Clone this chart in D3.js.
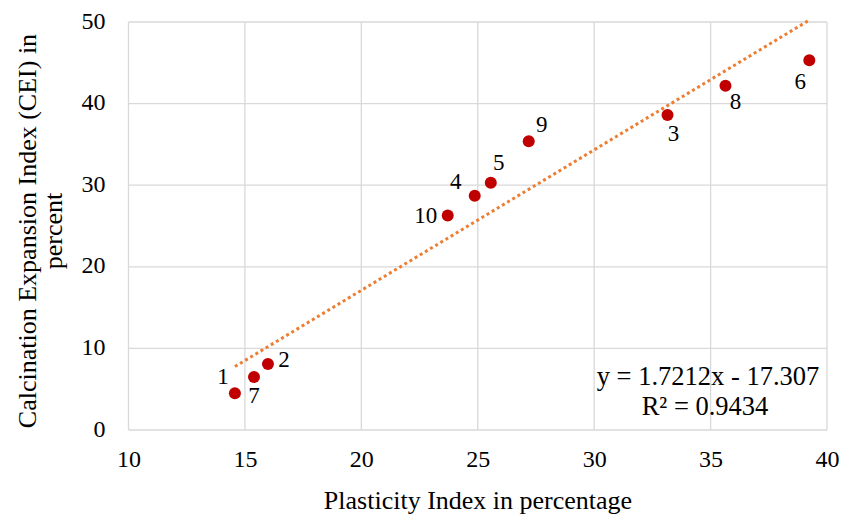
<!DOCTYPE html>
<html>
<head>
<meta charset="utf-8">
<script src="https://cdn.jsdelivr.net/npm/d3@7"></script>
<style>
  html, body { margin: 0; padding: 0; background: #fff; }
  svg { display: block; }
  svg text { font-family: "Liberation Serif", "Times New Roman", serif !important; fill: #000; }
</style>
</head>
<body>
<svg id="chart" width="843" height="514"></svg>
<script>
// ---- data ----
const sampleIds = [1, 2, 3, 4, 5, 6, 7, 8, 9, 10];
const plasticityIndex = [14.57, 15.99, 33.15, 24.87, 25.56, 39.24, 15.39, 35.64, 27.19, 23.71];
const cei = [4.5, 8.1, 38.6, 28.7, 30.3, 45.3, 6.5, 42.2, 35.4, 26.3];
const xTicks = [10, 15, 20, 25, 30, 35, 40];
const yTicks = [0, 10, 20, 30, 40, 50];
const trendSlope = 1.7212;
const trendIntercept = -17.307;
const trendR2 = 0.9434;

// label offsets (layout, px) per sample id
const labelOffset = {
  1: [-12, -17], 2: [16, -5], 3: [6, 18], 4: [-19, -15], 5: [8, -21],
  6: [-9, 21], 7: [0, 18], 8: [10, 15], 9: [13, -17], 10: [-22, 0]
};

const svg = d3.select("#chart");
const x = d3.scaleLinear().domain([10, 40]).range([128.5, 827]);
const y = d3.scaleLinear().domain([0, 50]).range([430, 22]);

// gridlines
const grid = svg.append("g").attr("stroke", "#d9d9d9").attr("stroke-width", 1.3);
grid.selectAll("line.v").data(xTicks).join("line")
  .attr("x1", d => x(d)).attr("x2", d => x(d))
  .attr("y1", y(0)).attr("y2", y(50));
grid.selectAll("line.h").data(yTicks).join("line")
  .attr("x1", x(10)).attr("x2", x(40))
  .attr("y1", d => y(d)).attr("y2", d => y(d));

// axes (labels only)
const xAxis = d3.axisBottom(x).tickValues(xTicks).tickSize(0).tickPadding(0);
const gx = svg.append("g").attr("transform", `translate(0,${y(0)})`).call(xAxis);
gx.attr("font-family", null).attr("font-size", null);
gx.select(".domain").remove();
gx.selectAll("text").style("font-size", "24px")
  .attr("fill", "#000").attr("y", 37).attr("dy", 0);

const yAxis = d3.axisLeft(y).tickValues(yTicks).tickSize(0).tickPadding(0);
const gy = svg.append("g").attr("transform", `translate(${x(10)},0)`).call(yAxis);
gy.attr("font-family", null).attr("font-size", null);
gy.select(".domain").remove();
gy.selectAll("text").style("font-size", "24px")
  .attr("fill", "#000").attr("x", -23).attr("dy", 6);

// trendline
const xMin = d3.min(plasticityIndex), xMax = d3.max(plasticityIndex);
svg.append("line")
  .attr("x1", x(xMin)).attr("y1", y(trendSlope * xMin + trendIntercept))
  .attr("x2", x(xMax)).attr("y2", y(trendSlope * xMax + trendIntercept))
  .attr("stroke", "#ED7D31").attr("stroke-width", 3)
  .attr("stroke-dasharray", "3 3");

// points
const pts = sampleIds.map((id, i) => ({ id, px: plasticityIndex[i], c: cei[i] }));
svg.append("g").selectAll("circle").data(pts).join("circle")
  .attr("cx", d => x(d.px)).attr("cy", d => y(d.c)).attr("r", 6)
  .attr("fill", "#C00000");

// data labels
svg.append("g").selectAll("text").data(pts).join("text")
  .attr("x", d => x(d.px) + labelOffset[d.id][0])
  .attr("y", d => y(d.c) + labelOffset[d.id][1])
  .attr("dy", "0.35em")
  .attr("text-anchor", "middle").style("font-size", "23px")
  .text(d => d.id);

// equation
const eqX = 708;
svg.append("text").attr("x", eqX).attr("y", 385).attr("text-anchor", "middle")
  .style("font-size", "26.5px")
  .text(`y = ${trendSlope}x - ${Math.abs(trendIntercept)}`);
svg.append("text").attr("x", eqX - 3).attr("y", 415).attr("text-anchor", "middle")
  .style("font-size", "26.5px")
  .text(`R² = ${trendR2}`);

// axis titles
svg.append("text").attr("x", 478).attr("y", 509).attr("text-anchor", "middle")
  .style("font-size", "26px").text("Plasticity Index in percentage");

const yt = svg.append("text").attr("text-anchor", "middle").style("font-size", "26px")
  .attr("transform", "translate(36,231) rotate(-90)");
yt.append("tspan").attr("x", 0).attr("y", 0).text("Calcination  Expansion  Index (CEI) in");
yt.append("tspan").attr("x", 0).attr("y", 26).text("percent");
</script>
</body>
</html>
